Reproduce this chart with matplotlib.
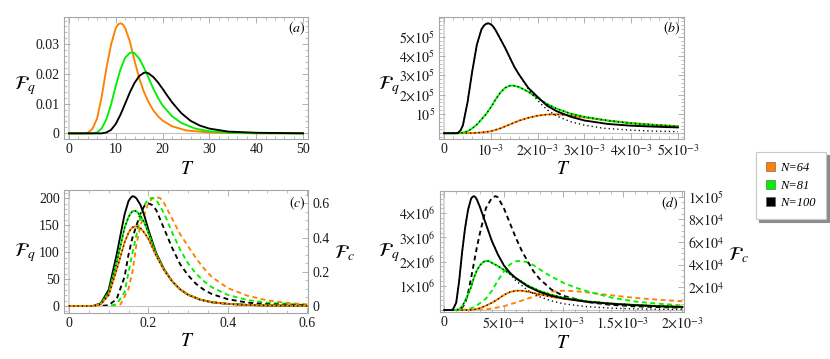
import numpy as np
import matplotlib
matplotlib.use('Agg')
import matplotlib.pyplot as plt
from matplotlib.ticker import AutoMinorLocator
from matplotlib.patches import Patch

plt.rcParams['font.family'] = ['Liberation Serif', 'DejaVu Serif']
plt.rcParams['mathtext.fontset'] = 'stix'

# ---------------- data ----------------
series_labels = ['N=64', 'N=81', 'N=100']
series_colors = ['#FF8000', '#00F000', '#000000']

# panel (a)
a_T_64 = [0, 3, 4, 5, 6, 7, 8, 9, 10, 10.5, 11, 11.5, 12, 13, 14, 15, 16, 17, 18, 19, 20, 22, 25, 30, 35, 40, 50]
a_F_64 = [0, 0, 0.0002, 0.0015, 0.005, 0.0125, 0.022, 0.030, 0.0355, 0.0367, 0.0371, 0.0367, 0.0355, 0.031, 0.0245,
          0.0186, 0.0140, 0.0105, 0.0078, 0.0058, 0.0043, 0.0024, 0.0010, 0.0003, 0.0001, 0.00003, 0]
a_T_81 = [0, 5, 6, 7, 8, 9, 10, 11, 12, 13, 13.5, 14, 15, 16, 17, 18, 19, 20, 22, 24, 27, 30, 35, 40, 50]
a_F_81 = [0, 0, 0.0003, 0.0017, 0.0048, 0.0098, 0.0160, 0.0216, 0.0255, 0.0271, 0.0273, 0.0270, 0.0252, 0.0222,
          0.0187, 0.0151, 0.0120, 0.0094, 0.0058, 0.0035, 0.0016, 0.0007, 0.0002, 0.00005, 0]
a_T_100 = [0, 7, 8, 9, 10, 11, 12, 13, 14, 15, 16, 16.5, 17, 18, 19, 20, 21, 22, 24, 26, 28, 30, 34, 40, 50]
a_F_100 = [0, 0, 0.0003, 0.0012, 0.0032, 0.0063, 0.0100, 0.0138, 0.0170, 0.0193, 0.0204, 0.0205, 0.0202, 0.0190,
           0.0172, 0.0150, 0.0127, 0.0105, 0.0068, 0.0042, 0.0026, 0.0016, 0.0006, 0.0002, 0.00002]

# panel (b)  (T in units of 1e-3, F in units of 1e5)
b_T_64 = [0, 0.4, 0.6, 0.8, 1.0, 1.2, 1.4, 1.6, 1.8, 2.0, 2.2, 2.4, 2.6, 2.8, 3.0, 3.5, 4.0, 4.5, 5.0]
b_F_64 = [0, 0, 0.01, 0.04, 0.10, 0.25, 0.45, 0.65, 0.80, 0.91, 0.97, 0.98, 0.95, 0.89, 0.82, 0.66, 0.53, 0.44, 0.37]
b_T_81 = [0, 0.3, 0.4, 0.5, 0.6, 0.7, 0.8, 0.9, 1.0, 1.1, 1.2, 1.3, 1.4, 1.45, 1.5, 1.6, 1.8, 2.0, 2.2, 2.4, 2.7,
          3.0, 3.5, 4.0, 4.5, 5.0]
b_F_81 = [0, 0, 0.03, 0.1, 0.25, 0.45, 0.72, 1.0, 1.35, 1.75, 2.1, 2.35, 2.46, 2.47, 2.46, 2.40, 2.15, 1.82, 1.52,
          1.28, 1.02, 0.85, 0.65, 0.51, 0.42, 0.35]
b_T_100 = [0, 0.25, 0.3, 0.35, 0.4, 0.5, 0.6, 0.7, 0.8, 0.85, 0.9, 0.95, 1.0, 1.05, 1.1, 1.2, 1.3, 1.4, 1.5, 1.6,
           1.8, 2.0, 2.2, 2.4, 2.7, 3.0, 3.5, 4.0, 4.5, 5.0]
b_F_100 = [0, 0, 0.02, 0.15, 0.4, 1.6, 3.2, 4.6, 5.4, 5.58, 5.68, 5.70, 5.65, 5.53, 5.35, 4.9, 4.45, 3.95, 3.45,
           3.05, 2.35, 1.88, 1.43, 1.15, 0.86, 0.66, 0.48, 0.39, 0.34, 0.30]
b_T_100dot = [0, 0.25, 0.3, 0.35, 0.4, 0.5, 0.6, 0.7, 0.8, 0.85, 0.9, 0.95, 1.0, 1.05, 1.1, 1.2, 1.3, 1.4, 1.5,
              1.6, 1.8, 2.0, 2.2, 2.4, 2.7, 3.0, 3.4, 4.0, 4.5, 5.0]
b_F_100dot = [0, 0, 0.02, 0.15, 0.4, 1.6, 3.2, 4.6, 5.4, 5.58, 5.68, 5.70, 5.65, 5.53, 5.35, 4.9, 4.45, 3.95,
              3.45, 3.05, 2.30, 1.70, 1.22, 0.90, 0.60, 0.42, 0.26, 0.16, 0.11, 0.08]

# panel (c)  quantum (solid, left axis) and classical (dashed, right axis)
c_T_q = [0, 0.06, 0.08, 0.10, 0.12, 0.14, 0.15, 0.155, 0.16, 0.165, 0.17, 0.18, 0.19, 0.20, 0.22, 0.24, 0.26,
         0.28, 0.30, 0.33, 0.36, 0.40, 0.45, 0.50, 0.60]
c_Fq_64 = [0, 0, 3, 20, 67, 118, 136, 142, 146, 147.5, 148, 145, 136, 125, 93, 66, 46, 31, 21, 12, 7, 4, 2, 1, 0.3]
c_Fq_81 = [0, 0, 4, 25, 80, 145, 165, 171.5, 176, 177, 176, 168, 155, 136, 96, 67, 46, 31, 21, 12, 7, 4, 2, 1, 0.3]
c_Fq_100 = [0, 0, 5, 30, 95, 170, 195, 200.5, 204, 203, 200, 188, 168, 142, 98, 68, 46, 31, 21, 12, 7, 4, 2, 1, 0.3]
c_T_c64 = [0, 0.11, 0.13, 0.15, 0.16, 0.17, 0.18, 0.20, 0.21, 0.22, 0.23, 0.24, 0.26, 0.28, 0.30, 0.32, 0.34,
           0.36, 0.40, 0.45, 0.50, 0.55, 0.60]
c_Fc_64 = [0, 0, 0.01, 0.10, 0.20, 0.36, 0.47, 0.60, 0.63, 0.637, 0.63, 0.60, 0.51, 0.42, 0.35, 0.28, 0.22,
           0.17, 0.105, 0.06, 0.033, 0.018, 0.01]
c_T_c81 = [0, 0.10, 0.12, 0.14, 0.16, 0.18, 0.19, 0.20, 0.21, 0.22, 0.24, 0.26, 0.28, 0.30, 0.32, 0.34, 0.36,
           0.40, 0.45, 0.50, 0.60]
c_Fc_81 = [0, 0, 0.01, 0.08, 0.31, 0.52, 0.59, 0.625, 0.632, 0.62, 0.54, 0.43, 0.33, 0.25, 0.19, 0.145, 0.11,
           0.065, 0.035, 0.02, 0.006]
c_T_c100 = [0, 0.08, 0.10, 0.12, 0.14, 0.15, 0.16, 0.18, 0.19, 0.20, 0.21, 0.22, 0.24, 0.26, 0.28, 0.30, 0.32,
            0.34, 0.36, 0.40, 0.45, 0.50, 0.60]
c_Fc_100 = [0, 0, 0.005, 0.04, 0.17, 0.30, 0.40, 0.54, 0.585, 0.60, 0.59, 0.56, 0.45, 0.34, 0.245, 0.18, 0.13,
            0.095, 0.07, 0.04, 0.02, 0.011, 0.004]

# panel (d)  (T in units of 1e-4, Fq in 1e6, Fc in 1e4)
d_T_q64 = [0, 2.0, 2.5, 3.0, 3.5, 4.0, 4.5, 5.0, 5.5, 6.0, 6.5, 7.0, 8.0, 9.0, 10.0, 12, 14, 16, 18, 20]
d_Fq_64 = [0, 0, 0.02, 0.08, 0.18, 0.30, 0.45, 0.62, 0.74, 0.80, 0.80, 0.76, 0.65, 0.55, 0.47, 0.35, 0.27, 0.21, 0.17, 0.14]
d_T_q81 = [0, 1.0, 1.25, 1.5, 1.75, 2.0, 2.25, 2.5, 2.75, 3.0, 3.25, 3.5, 3.75, 4.0, 4.5, 5.0, 5.5, 6.0, 7.0,
           8.0, 9.0, 10.0, 12, 14, 16, 18, 20]
d_Fq_81 = [0, 0, 0.03, 0.15, 0.38, 0.65, 0.95, 1.35, 1.65, 1.85, 1.98, 2.03, 2.02, 1.95, 1.82, 1.66, 1.50, 1.33,
           1.02, 0.79, 0.63, 0.51, 0.36, 0.27, 0.21, 0.16, 0.13]
d_T_q100 = [0, 0.7, 1.0, 1.25, 1.5, 1.75, 2.0, 2.25, 2.375, 2.5, 2.625, 2.75, 3.0, 3.5, 4.0, 4.5, 5.0, 5.5, 6.0,
            7.0, 8.0, 9.0, 10.0, 12, 14, 16, 18, 20]
d_Fq_100 = [0, 0, 0.3, 1.2, 2.4, 3.4, 4.15, 4.6, 4.68, 4.7, 4.66, 4.55, 4.25, 3.55, 2.85, 2.3, 1.85, 1.55, 1.32,
            0.98, 0.75, 0.59, 0.48, 0.34, 0.26, 0.20, 0.155, 0.125]
d_T_q100dot = [0, 0.7, 1.0, 1.25, 1.5, 1.75, 2.0, 2.25, 2.375, 2.5, 2.625, 2.75, 3.0, 3.5, 4.0, 4.5, 5.0, 5.5,
               6.0, 7.0, 8.0, 9.0, 10.0, 12, 14, 16, 18, 20]
d_Fq_100dot = [0, 0, 0.3, 1.2, 2.4, 3.4, 4.15, 4.6, 4.68, 4.7, 4.66, 4.55, 4.25, 3.55, 2.85, 2.3, 1.85, 1.50,
               1.22, 0.82, 0.55, 0.38, 0.26, 0.14, 0.08, 0.05, 0.035, 0.025]
d_T_c64 = [0, 2.5, 3.0, 4.0, 5.0, 6.0, 7.0, 8.0, 9.0, 10.0, 11.0, 12.0, 13.0, 14.0, 15.0, 16.0, 18.0, 20.0]
d_Fc_64 = [0, 0, 0.02, 0.12, 0.33, 0.65, 1.0, 1.35, 1.62, 1.70, 1.66, 1.55, 1.42, 1.30, 1.18, 1.07, 0.90, 0.77]
d_T_c81 = [0, 1.5, 2.0, 2.5, 3.0, 3.5, 4.0, 4.5, 5.0, 5.5, 6.0, 6.5, 7.0, 7.5, 8.0, 8.5, 9.0, 10.0, 11.0, 12.0,
           14.0, 16.0, 18.0, 20.0]
d_Fc_81 = [0, 0, 0.05, 0.25, 0.6, 1.0, 1.7, 2.6, 3.4, 4.0, 4.3, 4.33, 4.2, 3.95, 3.6, 3.25, 2.95, 2.4, 1.98,
           1.65, 1.1, 0.75, 0.55, 0.4]
d_T_c100 = [0, 1.0, 1.5, 1.75, 2.0, 2.25, 2.5, 2.75, 3.0, 3.5, 4.0, 4.3, 4.5, 5.0, 5.5, 6.0, 6.5, 7.0, 7.5, 8.0,
            9.0, 10.0, 12, 14, 16, 18, 20]
d_Fc_100 = [0, 0, 0.2, 0.6, 1.5, 2.8, 4.2, 5.6, 6.8, 9.0, 9.9, 10.05, 9.95, 9.0, 7.7, 6.4, 5.25, 4.3, 3.4, 2.75,
            1.8, 1.25, 0.7, 0.45, 0.32, 0.25, 0.2]

# tick values / labels
a_xticks = [0, 10, 20, 30, 40, 50]
a_yticks = [0, 0.01, 0.02, 0.03]
a_yticklabels = ['0', '0.01', '0.02', '0.03']
b_xticks = [0, 1e-3, 2e-3, 3e-3, 4e-3, 5e-3]
b_xticklabels = ['0', r'$10^{-3}$', r'$2{\times}10^{-3}$', r'$3{\times}10^{-3}$', r'$4{\times}10^{-3}$', r'$5{\times}10^{-3}$']
b_yticks = [1e5, 2e5, 3e5, 4e5, 5e5]
b_yticklabels = [r'$10^{5}$', r'$2{\times}10^{5}$', r'$3{\times}10^{5}$', r'$4{\times}10^{5}$', r'$5{\times}10^{5}$']
c_xticks = [0, 0.2, 0.4, 0.6]
c_xticklabels = ['0', '0.2', '0.4', '0.6']
c_yticks = [0, 50, 100, 150, 200]
c_y2ticks = [0, 0.2, 0.4, 0.6]
c_y2ticklabels = ['0', '0.2', '0.4', '0.6']
d_xticks = [0, 5e-4, 1e-3, 1.5e-3, 2e-3]
d_xticklabels = ['0', r'$5{\times}10^{-4}$', r'$1{\times}10^{-3}$', r'$1.5{\times}10^{-3}$', r'$2{\times}10^{-3}$']
d_yticks = [1e6, 2e6, 3e6, 4e6]
d_yticklabels = [r'$1{\times}10^{6}$', r'$2{\times}10^{6}$', r'$3{\times}10^{6}$', r'$4{\times}10^{6}$']
d_y2ticks = [2e4, 4e4, 6e4, 8e4, 1e5]
d_y2ticklabels = [r'$2{\times}10^{4}$', r'$4{\times}10^{4}$', r'$6{\times}10^{4}$', r'$8{\times}10^{4}$', r'$1{\times}10^{5}$']

# ---------------- figure ----------------
W, H = 830, 359
fig = plt.figure(figsize=(W / 100, H / 100), dpi=100)

FRAME = '#a6a6a6'
LW = 1.35
DASH = (0, (2.6, 1.9))
DOT = (0, (0.9, 2.2))
TLS = 10


def px_axes(l, t, r, b):
    return fig.add_axes([l / W, 1 - b / H, (r - l) / W, (b - t) / H])


def style(ax, right=True, xminor=5, yminor=5):
    for s in ax.spines.values():
        s.set_color(FRAME)
        s.set_linewidth(0.8)
    ax.tick_params(which='both', direction='in', top=True, right=right,
                   colors=FRAME, labelcolor='#1a1a1a', labelsize=TLS, pad=3)
    ax.tick_params(which='major', length=4, width=0.6)
    ax.tick_params(which='minor', length=2, width=0.5)
    ax.xaxis.set_minor_locator(AutoMinorLocator(xminor))
    ax.yaxis.set_minor_locator(AutoMinorLocator(yminor))
    ax.axhline(0, color='#c4c4c4', lw=0.8, zorder=0)
    ax.axvline(0, color='#d4d4d4', lw=1.3, zorder=0)


def style_twin(ax2, yminor=5):
    for s in ax2.spines.values():
        s.set_visible(False)
    ax2.tick_params(which='both', direction='in', colors=FRAME, labelcolor='#1a1a1a', labelsize=TLS, pad=3)
    ax2.tick_params(which='major', length=4, width=0.6)
    ax2.tick_params(which='minor', length=2, width=0.5)
    ax2.yaxis.set_minor_locator(AutoMinorLocator(yminor))


def ftext(x, y, s, **kw):
    fig.text(x / W, 1 - y / H, s, ha='center', va='center', **kw)


C64, C81, C100 = series_colors

# (a)
axa = px_axes(64, 17, 308, 139)
axa.plot(a_T_64, a_F_64, color=C64, lw=LW)
axa.plot(a_T_81, a_F_81, color=C81, lw=LW)
axa.plot(a_T_100, a_F_100, color=C100, lw=LW)
axa.set_xlim(-1.07, 51.07)
axa.set_ylim(-0.0019, 0.0392)
axa.set_xticks(a_xticks)
axa.set_yticks(a_yticks)
axa.set_yticklabels(a_yticklabels)
style(axa)
axa.text(0.955, 0.91, r'$(a)$', transform=axa.transAxes, ha='center', va='center', fontsize=10)

# (b)
axb = px_axes(439, 17, 684, 139)
sx, sy = 1e-3, 1e5
axb.plot(np.array(b_T_64) * sx, np.array(b_F_64) * sy, color=C64, lw=LW)
axb.plot(np.array(b_T_64) * sx, np.array(b_F_64) * sy, color='k', lw=1.0, ls=DOT)
axb.plot(np.array(b_T_81) * sx, np.array(b_F_81) * sy, color=C81, lw=LW)
axb.plot(np.array(b_T_81) * sx, np.array(b_F_81) * sy, color='k', lw=1.0, ls=DOT)
axb.plot(np.array(b_T_100dot) * sx, np.array(b_F_100dot) * sy, color='k', lw=1.0, ls=DOT)
axb.plot(np.array(b_T_100) * sx, np.array(b_F_100) * sy, color=C100, lw=LW)
axb.set_xlim(-0.11e-3, 5.13e-3)
axb.set_ylim(-0.3e5, 6.03e5)
axb.set_xticks(b_xticks)
axb.set_xticklabels(b_xticklabels)
axb.set_yticks(b_yticks)
axb.set_yticklabels(b_yticklabels)
style(axb)
axb.text(0.951, 0.91, r'$(b)$', transform=axb.transAxes, ha='center', va='center', fontsize=10)

# (c)
axc = px_axes(64, 190, 308, 312.7)
axc2 = axc.twinx()
axc2.plot(c_T_c64, c_Fc_64, color=C64, lw=LW, ls=DASH)
axc2.plot(c_T_c81, c_Fc_81, color=C81, lw=LW, ls=DASH)
axc2.plot(c_T_c100, c_Fc_100, color=C100, lw=LW, ls=DASH)
axc.plot(c_T_q, c_Fq_100, color=C100, lw=LW)
axc.plot(c_T_q, c_Fq_81, color=C81, lw=LW)
axc.plot(c_T_q, c_Fq_81, color='k', lw=1.0, ls=DOT)
axc.plot(c_T_q, c_Fq_64, color=C64, lw=LW)
axc.plot(c_T_q, c_Fq_64, color='k', lw=1.0, ls=DOT)
axc.set_zorder(axc2.get_zorder() + 1)
axc.patch.set_visible(False)
axc.set_xlim(-0.0126, 0.6025)
axc.set_ylim(-12.4, 215.5)
axc2.set_ylim(-0.039, 0.678)
axc.set_xticks(c_xticks)
axc.set_xticklabels(c_xticklabels)
axc.set_yticks(c_yticks)
axc2.set_yticks(c_y2ticks)
axc2.set_yticklabels(c_y2ticklabels)
style(axc, right=False, xminor=4)
style_twin(axc2, yminor=4)
axc.text(0.955, 0.894, r'$(c)$', transform=axc.transAxes, ha='center', va='center', fontsize=10)

# (d)
axd = px_axes(440, 190.7, 684, 312)
axd2 = axd.twinx()
tx, qy, cy = 1e-4, 1e6, 1e4
axd2.plot(np.array(d_T_c64) * tx, np.array(d_Fc_64) * cy, color=C64, lw=LW, ls=DASH)
axd2.plot(np.array(d_T_c81) * tx, np.array(d_Fc_81) * cy, color=C81, lw=LW, ls=DASH)
axd2.plot(np.array(d_T_c100) * tx, np.array(d_Fc_100) * cy, color=C100, lw=LW, ls=DASH)
axd.plot(np.array(d_T_q64) * tx, np.array(d_Fq_64) * qy, color=C64, lw=LW)
axd.plot(np.array(d_T_q64) * tx, np.array(d_Fq_64) * qy, color='k', lw=1.0, ls=DOT)
axd.plot(np.array(d_T_q81) * tx, np.array(d_Fq_81) * qy, color=C81, lw=LW)
axd.plot(np.array(d_T_q81) * tx, np.array(d_Fq_81) * qy, color='k', lw=1.0, ls=DOT)
axd.plot(np.array(d_T_q100dot) * tx, np.array(d_Fq_100dot) * qy, color='k', lw=1.0, ls=DOT)
axd.plot(np.array(d_T_q100) * tx, np.array(d_Fq_100) * qy, color=C100, lw=LW)
axd.set_zorder(axd2.get_zorder() + 1)
axd.patch.set_visible(False)
axd.set_xlim(-0.036e-3, 2.014e-3)
axd.set_ylim(-0.08e6, 4.93e6)
axd2.set_ylim(-0.18e4, 10.53e4)
axd.set_xticks(d_xticks)
axd.set_xticklabels(d_xticklabels)
axd.set_yticks(d_yticks)
axd.set_yticklabels(d_yticklabels)
axd2.set_yticks(d_y2ticks)
axd2.set_yticklabels(d_y2ticklabels)
style(axd, right=False)
style_twin(axd2, yminor=4)
axd.text(0.943, 0.90, r'$(d)$', transform=axd.transAxes, ha='center', va='center', fontsize=10)

# axis labels
for x, y in [(187, 170), (563, 170), (187, 342), (563, 343)]:
    ftext(x, y, r'$T$', fontsize=14)
for x, y in [(25, 86), (389, 86), (25, 253), (389, 253)]:
    ftext(x, y, r'$\mathcal{F}_q$', fontsize=14)
for x, y in [(344, 253), (738, 255)]:
    ftext(x, y, r'$\mathcal{F}_c$', fontsize=14)

# legend
handles = [Patch(facecolor=c, edgecolor='#555555', linewidth=0.4) for c in series_colors]
leg = fig.legend(handles, series_labels, loc='upper left', bbox_to_anchor=(756 / W, 1 - 152 / H),
                 frameon=True, fancybox=False, edgecolor='#c8c8c8', framealpha=1,
                 shadow={'ox': 2.2, 'oy': -2.2, 'color': '#8c8c8c', 'alpha': 1.0},
                 prop={'family': 'Liberation Serif', 'style': 'italic', 'size': 9},
                 handlelength=0.75, handleheight=0.75, handletextpad=0.4, labelspacing=0.45,
                 borderpad=0.8, borderaxespad=0)
leg.get_frame().set_linewidth(0.8)

fig.savefig('out.png', dpi=100)
